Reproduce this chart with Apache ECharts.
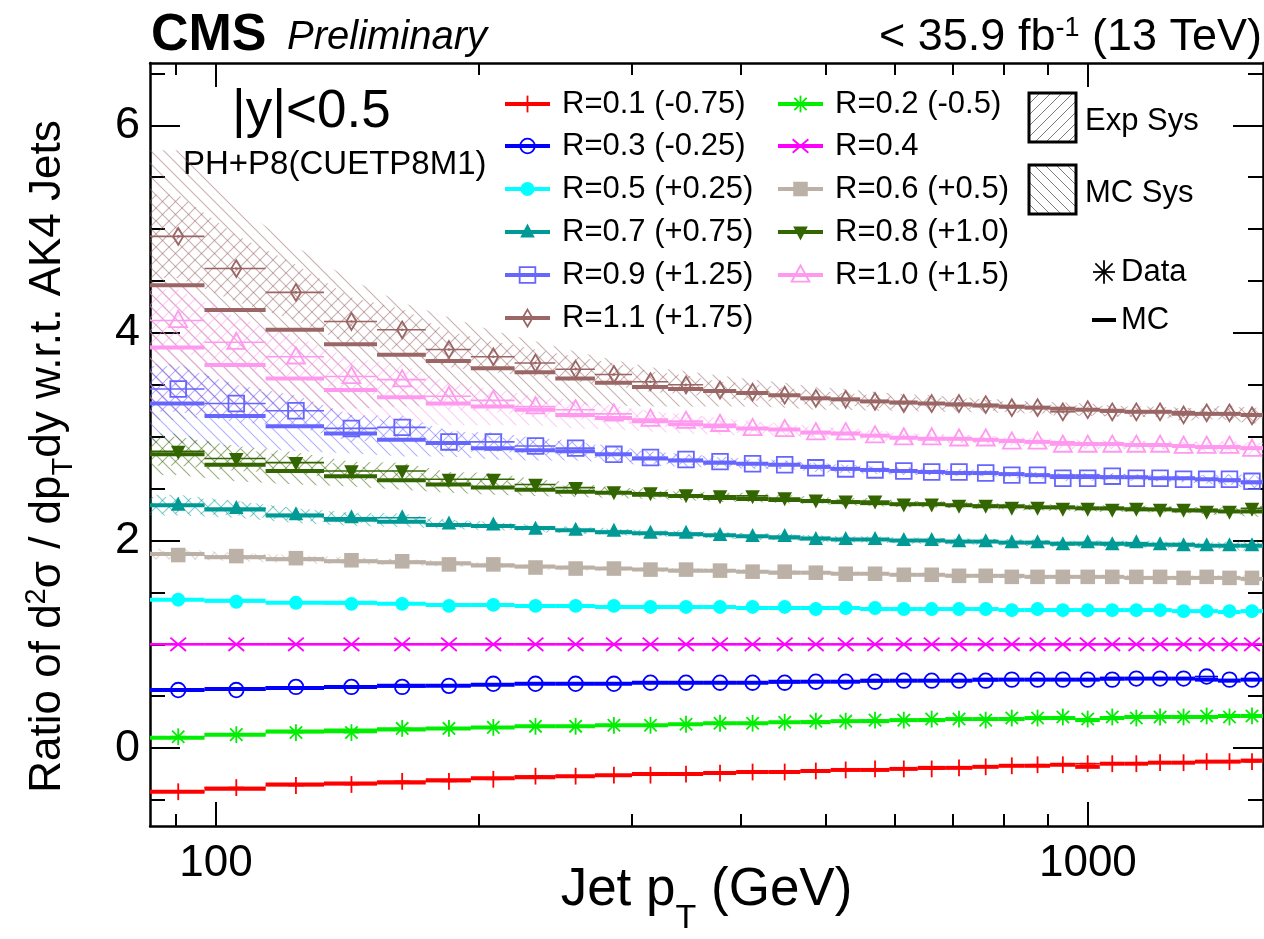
<!DOCTYPE html>
<html><head><meta charset="utf-8">
<script src="https://cdn.jsdelivr.net/npm/echarts@6/dist/echarts.min.js"></script>
<style>html,body{margin:0;padding:0;background:#fff}#c{width:1264px;height:939px}</style>
</head><body><div id="c"></div>
<script>
const FONT = '"Liberation Sans", Arial, Helvetica, sans-serif';
const binEdges = [84,97,114,133,153,174,196,220,245,272,300,330,362,395,430,468,507,548,592,638,686,737,790,846,905,967,1032,1101,1172,1248,1327,1410,1497,1588];
const xMajorTicks = [100, 1000];
const xMinorTicks = [90, 200, 300, 400, 500, 600, 700, 800, 900];
const yMajorTicks = [0, 2, 4, 6];
const yMinorTicks = [-0.5, 0.5, 1, 1.5, 2.5, 3, 3.5, 4.5, 5, 5.5, 6.5];

const seriesNames = ['R=0.1 (-0.75)','R=0.2 (-0.5)','R=0.3 (-0.25)','R=0.4','R=0.5 (+0.25)','R=0.6 (+0.5)','R=0.7 (+0.75)','R=0.8 (+1.0)','R=0.9 (+1.25)','R=1.0 (+1.5)','R=1.1 (+1.75)'];
const seriesColors = ['#ff0000','#00ee00','#0000ff','#ff00ff','#00ffff','#bcb1a6','#009a96','#336600','#6666ff','#ff99f0','#9a6666'];
const seriesSymbols = ['plus','star','ocircle','cross','fcircle','fsquare','ftriup','ftridown','osquare','otriup','odiamond'];

const dataR01 = [-0.42,-0.38,-0.36,-0.35,-0.32,-0.32,-0.30,-0.27,-0.27,-0.26,-0.26,-0.25,-0.24,-0.23,-0.23,-0.22,-0.21,-0.20,-0.20,-0.20,-0.19,-0.18,-0.17,-0.16,-0.16,-0.15,-0.15,-0.15,-0.14,-0.14,-0.13,-0.13,-0.13];
const mcR01   = [-0.42,-0.39,-0.35,-0.34,-0.33,-0.31,-0.29,-0.28,-0.27,-0.26,-0.25,-0.25,-0.24,-0.23,-0.23,-0.22,-0.21,-0.21,-0.20,-0.19,-0.19,-0.18,-0.17,-0.17,-0.16,-0.18,-0.15,-0.15,-0.14,-0.14,-0.13,-0.13,-0.12];
const dataR02 = [0.11,0.13,0.15,0.15,0.19,0.19,0.20,0.21,0.21,0.22,0.22,0.23,0.24,0.24,0.25,0.26,0.26,0.27,0.27,0.28,0.28,0.27,0.29,0.29,0.30,0.28,0.30,0.29,0.30,0.30,0.31,0.30,0.31];
const mcR02   = [0.10,0.13,0.16,0.17,0.18,0.19,0.20,0.21,0.21,0.22,0.22,0.23,0.24,0.24,0.25,0.25,0.26,0.26,0.27,0.27,0.28,0.28,0.28,0.29,0.29,0.27,0.29,0.30,0.30,0.30,0.30,0.31,0.31];
const dataR03 = [0.56,0.56,0.59,0.59,0.59,0.60,0.62,0.62,0.62,0.62,0.63,0.63,0.63,0.63,0.63,0.64,0.64,0.64,0.65,0.65,0.65,0.65,0.66,0.66,0.66,0.66,0.66,0.67,0.67,0.67,0.69,0.66,0.66];
const mcR03   = [0.56,0.57,0.58,0.59,0.60,0.60,0.61,0.62,0.62,0.62,0.63,0.63,0.63,0.63,0.64,0.64,0.64,0.65,0.65,0.65,0.65,0.66,0.66,0.66,0.66,0.66,0.67,0.67,0.67,0.67,0.66,0.65,0.66];
const dataR04 = [1,1,1,1,1,1,1,1,1,1,1,1,1,1,1,1,1,1,1,1,1,1,1,1,1,1,1,1,1,1,1,1,1];
const mcR04   = [1,1,1,1,1,1,1,1,1,1,1,1,1,1,1,1,1,1,1,1,1,1,1,1,1,1,1,1,1,1,1,1,1];
const dataR05 = [1.43,1.41,1.40,1.39,1.39,1.37,1.38,1.37,1.37,1.37,1.36,1.36,1.36,1.36,1.36,1.34,1.35,1.35,1.34,1.34,1.34,1.34,1.33,1.34,1.33,1.33,1.33,1.33,1.33,1.32,1.32,1.32,1.32];
const mcR05   = [1.43,1.42,1.40,1.40,1.39,1.38,1.38,1.37,1.37,1.36,1.36,1.36,1.36,1.35,1.35,1.35,1.35,1.34,1.34,1.34,1.34,1.34,1.33,1.33,1.33,1.33,1.33,1.33,1.33,1.32,1.32,1.31,1.32];
const dataR06 = [1.86,1.85,1.83,1.81,1.80,1.77,1.77,1.74,1.73,1.73,1.72,1.72,1.71,1.70,1.70,1.69,1.68,1.68,1.67,1.67,1.66,1.66,1.65,1.65,1.65,1.65,1.65,1.65,1.65,1.64,1.65,1.64,1.64];
const mcR06   = [1.87,1.84,1.82,1.80,1.79,1.78,1.76,1.75,1.74,1.73,1.72,1.71,1.71,1.70,1.69,1.69,1.68,1.68,1.67,1.67,1.66,1.66,1.66,1.65,1.65,1.65,1.65,1.64,1.64,1.64,1.64,1.64,1.63];
const dataR07 = [2.34,2.31,2.25,2.22,2.22,2.16,2.15,2.11,2.10,2.09,2.07,2.07,2.05,2.04,2.04,2.01,2.01,2.01,2.00,2.00,1.99,1.99,1.98,1.98,1.96,1.98,1.96,1.98,1.96,1.95,1.95,1.95,1.95];
const mcR07   = [2.34,2.30,2.24,2.20,2.18,2.15,2.14,2.12,2.10,2.08,2.07,2.06,2.05,2.04,2.03,2.02,2.01,2.01,2.00,2.00,1.99,1.99,1.98,1.98,1.97,1.97,1.97,1.96,1.96,1.96,1.95,1.95,1.95];
const dataR08 = [2.86,2.79,2.75,2.67,2.67,2.59,2.59,2.54,2.51,2.47,2.46,2.44,2.43,2.43,2.41,2.39,2.38,2.38,2.35,2.35,2.34,2.34,2.32,2.32,2.31,2.31,2.30,2.31,2.30,2.30,2.28,2.28,2.31];
const mcR08   = [2.83,2.73,2.67,2.62,2.58,2.54,2.51,2.49,2.47,2.46,2.44,2.43,2.41,2.40,2.39,2.38,2.37,2.36,2.35,2.35,2.34,2.33,2.33,2.32,2.32,2.31,2.31,2.30,2.30,2.29,2.29,2.28,2.28];
const dataR09 = [3.46,3.32,3.25,3.08,3.09,2.95,2.95,2.91,2.89,2.83,2.80,2.78,2.76,2.74,2.73,2.70,2.69,2.68,2.67,2.66,2.66,2.65,2.63,2.63,2.60,2.60,2.62,2.60,2.60,2.59,2.59,2.59,2.57];
const mcR09   = [3.32,3.20,3.10,3.03,2.97,2.94,2.89,2.87,2.86,2.83,2.79,2.77,2.75,2.74,2.73,2.71,2.69,2.68,2.67,2.66,2.65,2.65,2.64,2.63,2.62,2.62,2.61,2.61,2.60,2.60,2.59,2.58,2.56];
const dataR10 = [4.12,3.91,3.77,3.58,3.55,3.39,3.35,3.29,3.26,3.22,3.17,3.15,3.12,3.08,3.07,3.04,3.04,3.01,2.99,2.99,2.98,2.98,2.95,2.95,2.92,2.92,2.92,2.92,2.92,2.91,2.91,2.91,2.88];
const mcR10   = [3.86,3.69,3.56,3.45,3.38,3.32,3.29,3.26,3.21,3.18,3.15,3.12,3.10,3.08,3.07,3.04,3.03,3.01,2.99,2.98,2.98,2.97,2.96,2.95,2.94,2.93,2.93,2.92,2.92,2.91,2.90,2.90,2.89];
const dataR11 = [4.93,4.62,4.39,4.11,4.03,3.84,3.77,3.71,3.65,3.60,3.53,3.50,3.45,3.43,3.40,3.37,3.36,3.34,3.32,3.32,3.32,3.31,3.28,3.28,3.24,3.26,3.24,3.24,3.24,3.21,3.23,3.23,3.20];
const mcR11   = [4.46,4.22,4.03,3.89,3.79,3.73,3.66,3.62,3.56,3.52,3.48,3.46,3.44,3.42,3.40,3.37,3.36,3.34,3.33,3.32,3.31,3.30,3.29,3.28,3.27,3.26,3.25,3.24,3.24,3.23,3.22,3.22,3.21];

// systematic half-widths (visible ones)
const mcSysR06  = [0.05,0.04,0.04,0.03,0.03,0.03,0.02,0.02,0.02,0.02,0.02,0.02,0.02,0.02,0.02,0.02,0.02,0.02,0.02,0.02,0.02,0.02,0.02,0.02,0.02,0.02,0.02,0.02,0.02,0.02,0.02,0.02,0.03];
const expSysR06 = [0.04,0.03,0.03,0.03,0.02,0.02,0.02,0.02,0.02,0.02,0.02,0.02,0.02,0.02,0.02,0.02,0.02,0.02,0.02,0.02,0.02,0.02,0.02,0.02,0.02,0.02,0.02,0.02,0.02,0.02,0.02,0.02,0.03];
const mcSysR07  = [0.10,0.08,0.07,0.06,0.05,0.04,0.04,0.03,0.03,0.03,0.03,0.03,0.03,0.03,0.03,0.03,0.03,0.03,0.03,0.03,0.03,0.03,0.03,0.03,0.03,0.03,0.03,0.03,0.03,0.03,0.03,0.04,0.05];
const expSysR07 = [0.08,0.07,0.06,0.05,0.04,0.04,0.03,0.03,0.03,0.03,0.03,0.03,0.03,0.03,0.03,0.03,0.03,0.03,0.03,0.03,0.03,0.03,0.03,0.03,0.03,0.03,0.03,0.03,0.03,0.03,0.03,0.04,0.05];
const mcSysR08  = [0.20,0.16,0.13,0.10,0.09,0.08,0.07,0.06,0.05,0.05,0.04,0.04,0.04,0.03,0.03,0.03,0.03,0.03,0.03,0.03,0.03,0.03,0.03,0.03,0.03,0.03,0.03,0.03,0.03,0.03,0.03,0.04,0.05];
const expSysR08 = [0.14,0.12,0.10,0.09,0.08,0.07,0.06,0.05,0.05,0.04,0.04,0.04,0.03,0.03,0.03,0.03,0.03,0.03,0.03,0.03,0.03,0.03,0.03,0.03,0.03,0.03,0.03,0.03,0.03,0.03,0.03,0.04,0.05];
const mcSysR09  = [0.38,0.30,0.24,0.19,0.16,0.13,0.11,0.10,0.09,0.08,0.07,0.06,0.05,0.05,0.04,0.04,0.04,0.04,0.04,0.03,0.03,0.03,0.03,0.03,0.03,0.03,0.03,0.03,0.03,0.03,0.04,0.05,0.06];
const expSysR09 = [0.22,0.18,0.15,0.13,0.11,0.10,0.09,0.08,0.07,0.06,0.06,0.05,0.05,0.04,0.04,0.04,0.04,0.03,0.03,0.03,0.03,0.03,0.03,0.03,0.03,0.03,0.03,0.03,0.03,0.03,0.04,0.05,0.06];
const mcSysR10  = [0.62,0.48,0.38,0.30,0.25,0.21,0.18,0.15,0.13,0.11,0.10,0.09,0.08,0.07,0.06,0.06,0.05,0.05,0.05,0.04,0.04,0.04,0.04,0.04,0.04,0.04,0.04,0.04,0.04,0.04,0.05,0.05,0.06];
const expSysR10 = [0.30,0.24,0.20,0.17,0.15,0.13,0.11,0.10,0.09,0.08,0.07,0.07,0.06,0.06,0.05,0.05,0.05,0.05,0.04,0.04,0.04,0.04,0.04,0.04,0.04,0.04,0.04,0.04,0.04,0.04,0.05,0.05,0.06];
const mcSysR11  = [1.30,1.00,0.80,0.62,0.50,0.42,0.36,0.30,0.26,0.22,0.19,0.17,0.15,0.13,0.12,0.11,0.10,0.09,0.08,0.08,0.07,0.07,0.06,0.06,0.06,0.06,0.05,0.05,0.05,0.05,0.05,0.06,0.08];
const expSysR11 = [0.40,0.32,0.27,0.23,0.20,0.17,0.15,0.13,0.12,0.11,0.10,0.09,0.08,0.08,0.07,0.07,0.06,0.06,0.06,0.06,0.05,0.05,0.05,0.05,0.05,0.05,0.05,0.05,0.05,0.06,0.06,0.07,0.08];

const dataSets = [dataR01,dataR02,dataR03,dataR04,dataR05,dataR06,dataR07,dataR08,dataR09,dataR10,dataR11];
const mcSets   = [mcR01,mcR02,mcR03,mcR04,mcR05,mcR06,mcR07,mcR08,mcR09,mcR10,mcR11];
const bandSets = [ // [series index, mc half-widths, exp half-widths]
  [10, mcSysR11, expSysR11],[9, mcSysR10, expSysR10],[8, mcSysR09, expSysR09],
  [7, mcSysR08, expSysR08],[6, mcSysR07, expSysR07],[5, mcSysR06, expSysR06]
];

function hexA(hex, a){const n=parseInt(hex.slice(1),16);return 'rgba('+(n>>16)+','+((n>>8)&255)+','+(n&255)+','+a+')';}
function hatch(color, dir, s, lw){
  s = s || 13; lw = lw || 1.1;
  const c=document.createElement('canvas'); c.width=s; c.height=s;
  const g=c.getContext('2d'); g.strokeStyle=color; g.lineWidth=lw; g.beginPath();
  if(dir>0){ g.moveTo(-1,s+1); g.lineTo(s+1,-1); g.moveTo(-2,2); g.lineTo(2,-2); g.moveTo(s-2,s+2); g.lineTo(s+2,s-2); }
  else { g.moveTo(-1,-1); g.lineTo(s+1,s+1); g.moveTo(s-2,-2); g.lineTo(s+2,2); g.moveTo(-2,s-2); g.lineTo(2,s+2); }
  g.stroke(); return c;
}

function L(x1,y1,x2,y2,col,lw){return {type:'line',shape:{x1,y1,x2,y2},style:{stroke:col,lineWidth:lw}};}
function markerEls(sym,x,y,col,sc){
  const lw=1.8, f=(sc||1)*1.12;
  switch(sym){
    case 'plus': return [L(x-7*f,y,x+7*f,y,col,lw),L(x,y-7.5*f,x,y+7.5*f,col,lw)];
    case 'star': return [L(x-7*f,y,x+7*f,y,col,lw),L(x,y-7.5*f,x,y+7.5*f,col,lw),L(x-5.5*f,y-5.5*f,x+5.5*f,y+5.5*f,col,lw),L(x-5.5*f,y+5.5*f,x+5.5*f,y-5.5*f,col,lw)];
    case 'ocircle': return [{type:'circle',shape:{cx:x,cy:y,r:6.5*f},style:{fill:'none',stroke:col,lineWidth:lw}}];
    case 'cross': return [L(x-7*f,y-6*f,x+7*f,y+6*f,col,lw),L(x-7*f,y+6*f,x+7*f,y-6*f,col,lw)];
    case 'fcircle': return [{type:'circle',shape:{cx:x,cy:y,r:6.2*f},style:{fill:col}}];
    case 'fsquare': return [{type:'rect',shape:{x:x-6.5*f,y:y-6.5*f,width:13*f,height:13*f},style:{fill:col}}];
    case 'ftriup': return [{type:'polygon',shape:{points:[[x,y-7.5*f],[x+6.5*f,y+5*f],[x-6.5*f,y+5*f]]},style:{fill:col}}];
    case 'ftridown': return [{type:'polygon',shape:{points:[[x,y+7.5*f],[x+6.5*f,y-5*f],[x-6.5*f,y-5*f]]},style:{fill:col}}];
    case 'osquare': return [{type:'rect',shape:{x:x-7*f,y:y-7*f,width:14*f,height:14*f},style:{fill:'none',stroke:col,lineWidth:lw}}];
    case 'otriup': return [{type:'polygon',shape:{points:[[x,y-8.5*f],[x+8*f,y+6*f],[x-8*f,y+6*f]]},style:{fill:'none',stroke:col,lineWidth:lw}}];
    case 'odiamond': return [{type:'polygon',shape:{points:[[x,y-7.5*f],[x+4.5*f,y],[x,y+7.5*f],[x-4.5*f,y]]},style:{fill:'none',stroke:col,lineWidth:lw}},{type:'circle',shape:{cx:x,cy:y,r:1.3},style:{fill:col}}];
  }
  return [];
}

const binItems = (vals) => vals.map((v,i)=>[binEdges[i], binEdges[i+1], (binEdges[i]+binEdges[i+1])/2, v]);

const series = [];
// bands
bandSets.forEach(([k, mcSys, expSys])=>{
  const col = seriesColors[k];
  [[mcSets[k], mcSys, -1, 0.5],[dataSets[k], expSys, 1, 0.5]].forEach(([cent, half, dir, a])=>{
    const pat = {image: hatch(hexA(col,a), dir), repeat:'repeat'};
    const N = cent.length;
    series.push({
      type:'custom', silent:true, z:1, clip:true, xAxisIndex:0, yAxisIndex:0,
      data: cent.map((v,i)=>[binEdges[i], binEdges[i+1], (binEdges[i]+binEdges[i+1])/2, v-half[i], v+half[i]]),
      encode:{x:[0,1,2], y:[3,4]},
      renderItem:(params, api)=>{
        if(params.dataIndex!==0) return null;
        const up=[], lo=[];
        up.push(api.coord([api.value(0,0), api.value(4,0)]));
        lo.push(api.coord([api.value(0,0), api.value(3,0)]));
        for(let j=0;j<N;j++){
          up.push(api.coord([api.value(2,j), api.value(4,j)]));
          lo.push(api.coord([api.value(2,j), api.value(3,j)]));
        }
        up.push(api.coord([api.value(1,N-1), api.value(4,N-1)]));
        lo.push(api.coord([api.value(1,N-1), api.value(3,N-1)]));
        return {type:'polygon', shape:{points: up.concat(lo.reverse())}, style:{fill: pat}};
      }
    });
  });
});
// MC segments
mcSets.forEach((vals,k)=>{
  const col = seriesColors[k];
  series.push({
    type:'custom', name: seriesNames[k]+' MC', silent:true, z:3, clip:true, xAxisIndex:0, yAxisIndex:0,
    data: binItems(vals), encode:{x:[0,1,2], y:3},
    renderItem:(params, api)=>{
      const a=api.coord([api.value(0),api.value(3)]), b=api.coord([api.value(1),api.value(3)]);
      return {type:'line', shape:{x1:a[0],y1:a[1],x2:b[0],y2:b[1]}, style:{stroke:col, lineWidth: k===3?2.5:4}};
    }
  });
});
// Data points
dataSets.forEach((vals,k)=>{
  const col = seriesColors[k], sym = seriesSymbols[k];
  series.push({
    type:'custom', name: seriesNames[k], z:5, clip:true, xAxisIndex:0, yAxisIndex:0,
    data: binItems(vals), encode:{x:[0,1,2], y:3},
    renderItem:(params, api)=>{
      const a=api.coord([api.value(0),api.value(3)]), b=api.coord([api.value(1),api.value(3)]), c=api.coord([api.value(2),api.value(3)]);
      return {type:'group', children:[L(a[0],a[1],b[0],b[1],col,1.6)].concat(markerEls(sym,c[0],c[1],col))};
    }
  });
});

const axLine = {show:true, onZero:false, lineStyle:{color:'#000', width:2.5}};
const tickStyle = {color:'#000', width:2};
function xAx(pos, major){
  const o = {type:'log', min:84, max:1588, position:pos, splitLine:{show:false},
    axisLine: major ? axLine : {show:false, onZero:false},
    axisTick:{show:true, inside:true, length: major?24:12, customValues: major?xMajorTicks:xMinorTicks, lineStyle:tickStyle},
    axisLabel:{show:false}};
  if(pos==='bottom' && major){
    o.axisLabel = {show:true, customValues:xMajorTicks, fontSize:44, color:'#000', fontFamily:FONT, margin:16, formatter:(v)=>String(Math.round(v))};
    o.name = '{n|Jet p}{s|T}{n| (GeV)}';
    o.nameLocation = 'middle'; o.nameGap = 38; o.nameMoveOverlap = false;
    o.nameTextStyle = {color:'#000', fontFamily:FONT, rich:{n:{fontSize:53, fontFamily:FONT, color:'#000', lineHeight:58, verticalAlign:'top'}, s:{fontSize:34, fontFamily:FONT, color:'#000', lineHeight:72, verticalAlign:'bottom'}}};
  }
  return o;
}
function yAx(pos, major){
  const o = {type:'value', min:-0.75, max:6.6, position:pos, splitLine:{show:false},
    axisLine: major ? axLine : {show:false, onZero:false},
    axisTick:{show:true, inside:true, length: major?30:15, customValues: major?yMajorTicks:yMinorTicks, lineStyle:tickStyle},
    axisLabel:{show:false}};
  if(pos==='left' && major){
    o.axisLabel = {show:true, customValues:yMajorTicks, fontSize:45, color:'#000', fontFamily:FONT, margin:10};
    o.name = '{n|Ratio of d}{p|2}{n|σ / dp}{s|T}{n|dy w.r.t. AK4 Jets}';
    o.nameLocation = 'middle'; o.nameGap = 72; o.nameMoveOverlap = false;
    o.nameTextStyle = {color:'#000', fontFamily:FONT, padding:[0,24,0,0], rich:{
      n:{fontSize:44, fontFamily:FONT, color:'#000', lineHeight:60},
      p:{fontSize:29, fontFamily:FONT, color:'#000', lineHeight:60, verticalAlign:'top', padding:[4,0,0,0]},
      s:{fontSize:29, fontFamily:FONT, color:'#000', lineHeight:60, verticalAlign:'bottom'}}};
  }
  return o;
}

// legend & annotations via graphic
const legendCols = [[0,2,4,6,8,10],[1,3,5,7,9]];
const legendX = [[505,550,562],[778,823,835]];
const rowY = [104,146,189,232,275,318];
const graphic = [];
legendCols.forEach((col,ci)=>{
  const [x1,x2,tx] = legendX[ci];
  col.forEach((k,ri)=>{
    const y=rowY[ri], c=seriesColors[k];
    graphic.push(L(x1,y,x2,y,c,4));
    markerEls(seriesSymbols[k], (x1+x2)/2, y, c).forEach(e=>graphic.push(e));
    graphic.push({type:'text', x:tx, y:y, style:{text:seriesNames[k], font:'31px '+FONT, fill:'#000', verticalAlign:'middle', align:'left'}});
  });
});
const sysBoxes = [['Exp Sys', 93, 1],['MC Sys', 165, -1]];
sysBoxes.forEach(([t,y0,dir])=>{
  graphic.push({type:'rect', shape:{x:1029,y:y0,width:47,height:49}, style:{fill:{image:hatch('rgba(90,90,90,0.8)',dir,11,1),repeat:'repeat'}, stroke:'#000', lineWidth:3}});
  graphic.push({type:'text', x:1085, y:y0+28, style:{text:t, font:'31px '+FONT, fill:'#000', verticalAlign:'middle', align:'left'}});
});
markerEls('star',1104,272,'#000',1.4).forEach(e=>graphic.push(e));
graphic.push({type:'text', x:1121, y:272, style:{text:'Data', font:'31px '+FONT, fill:'#000', verticalAlign:'middle', align:'left'}});
graphic.push(L(1092,320,1116,320,'#000',4));
graphic.push({type:'text', x:1121, y:320, style:{text:'MC', font:'31px '+FONT, fill:'#000', verticalAlign:'middle', align:'left'}});
graphic.push({type:'text', x:232, y:112, style:{text:'|y|<0.5', font:'53px '+FONT, fill:'#000', verticalAlign:'middle', align:'left'}});
graphic.push({type:'text', x:183, y:165, style:{text:'PH+P8(CUETP8M1)', font:'33px '+FONT, fill:'#000', verticalAlign:'middle', align:'left'}});
graphic.push({type:'text', x:151, y:36, style:{text:'CMS', font:'bold 52px '+FONT, fill:'#000', verticalAlign:'middle', align:'left'}});
graphic.push({type:'text', x:287, y:38, style:{text:'Preliminary', font:'italic 40px '+FONT, fill:'#000', verticalAlign:'middle', align:'left'}});
graphic.push({type:'text', x:1262, y:38, style:{text:'< 35.9 fb{s|-1} (13 TeV)', font:'45px '+FONT, fill:'#000', verticalAlign:'middle', align:'right',
  rich:{s:{fontSize:27, fontFamily:FONT, verticalAlign:'top', lineHeight:27}}}});

const chart = echarts.init(document.getElementById('c'), null, {renderer:'canvas'});
chart.setOption({
  animation:false,
  backgroundColor:'#fff',
  grid:{left:150, right:1, top:63, bottom:113, containLabel:false, outerBoundsMode:'none'},
  xAxis:[xAx('bottom',true), xAx('bottom',false), xAx('top',true), xAx('top',false)],
  yAxis:[yAx('left',true), yAx('left',false), yAx('right',true), yAx('right',false)],
  series: series,
  graphic: graphic
});
</script></body></html>
